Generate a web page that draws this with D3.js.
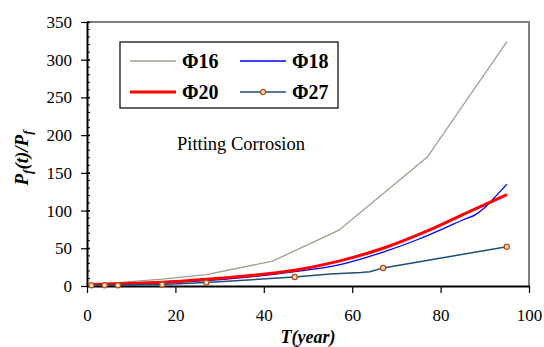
<!DOCTYPE html>
<html>
<head>
<meta charset="utf-8">
<script src="https://cdn.jsdelivr.net/npm/d3@7"></script>
<style>
  body { margin: 0; background: #fff; }
</style>
</head>
<body>
<div id="chart"></div>
<script>
// values
var xTicks = [0, 20, 40, 60, 80, 100];
var yTicks = [0, 50, 100, 150, 200, 250, 300, 350];

var phi16 = [[1, 2], [4, 3], [7, 4.5], [17, 9], [27, 15], [42, 33], [57, 74], [77, 171], [95, 324]];
var phi18 = [[1, 1], [4, 1.5], [7, 2], [17, 4], [27, 7], [37, 12], [47, 19], [57, 28], [67, 45], [75, 62], [81, 77], [85, 87.5], [88, 95], [90, 104], [92, 116], [95, 135]];
var phi20 = [[1, 2], [4, 2.5], [7, 3], [17, 5], [27, 9], [37, 14], [47, 21], [57, 33], [67, 50], [77, 73], [87, 100], [95, 121]];
var phi27 = [[1, 1], [4, 1], [7, 1], [17, 2], [27, 4.5], [47, 12], [55, 16], [62, 18], [64, 19], [67, 24], [95, 52]];
var phi27Marks = [[1, 1], [4, 1], [7, 1], [17, 2], [27, 4.5], [47, 12], [67, 24], [95, 52]];

var series = [
  { name: "Φ16", data: phi16, color: "#a09f8c", width: 1.3, curve: d3.curveLinear },
  { name: "Φ18", data: phi18, color: "#0000ff", width: 1.3, curve: d3.curveMonotoneX },
  { name: "Φ20", data: phi20, color: "#ff0000", width: 3, curve: d3.curveMonotoneX },
  { name: "Φ27", data: phi27, color: "#1f4e79", width: 1.5, curve: d3.curveLinear }
];

var FONT = "Liberation Serif";

var margin = { top: 22, right: 15, bottom: 61, left: 87 },
    width = 544 - margin.left - margin.right,
    height = 347 - margin.top - margin.bottom;

var svg = d3.select("#chart").append("svg")
    .attr("width", 544)
    .attr("height", 347)
    .attr("font-family", FONT);

var g = svg.append("g")
    .attr("transform", "translate(" + margin.left + "," + margin.top + ")");

var x = d3.scaleLinear().domain([0, 100]).range([0, width]);
var y = d3.scaleLinear().domain([0, 350]).range([height, 0]);

// gray frame on top and right
g.append("path")
    .attr("d", "M0,0H" + width + "V" + height)
    .attr("fill", "none")
    .attr("stroke", "#808080")
    .attr("stroke-width", 2);

// minor ticks on y, inside
g.selectAll("line.minor")
  .data(d3.range(0, 351, 10))
  .enter().append("line")
    .attr("class", "minor")
    .attr("x1", 0).attr("x2", 3)
    .attr("y1", function (d) { return y(d); })
    .attr("y2", function (d) { return y(d); })
    .attr("stroke", "#000");

var yAxis = g.append("g")
    .call(d3.axisLeft(y).tickValues(yTicks).tickSize(6).tickSizeOuter(0).tickPadding(9));
var xAxis = g.append("g")
    .attr("transform", "translate(0," + height + ")")
    .call(d3.axisBottom(x).tickValues(xTicks).tickSize(7).tickSizeOuter(0).tickPadding(16));

[yAxis, xAxis].forEach(function (a) {
  a.attr("font-family", FONT).attr("font-size", 17);
  a.select(".domain").attr("stroke", "#000").attr("stroke-width", 2);
  a.selectAll(".tick line").attr("stroke", "#000").attr("stroke-width", 1.2);
  a.selectAll(".tick text").attr("fill", "#000");
});
yAxis.selectAll(".tick line").attr("x2", -6).attr("x1", 3);

var line = d3.line()
    .x(function (d) { return x(d[0]); })
    .y(function (d) { return y(d[1]); });

g.selectAll("path.series")
  .data(series)
  .enter().append("path")
    .attr("class", "series")
    .attr("fill", "none")
    .attr("stroke", function (d) { return d.color; })
    .attr("stroke-width", function (d) { return d.width; })
    .attr("d", function (d) { return line.curve(d.curve)(d.data); });

g.selectAll("circle.mk")
  .data(phi27Marks)
  .enter().append("circle")
    .attr("class", "mk")
    .attr("cx", function (d) { return x(d[0]); })
    .attr("cy", function (d) { return y(d[1]); })
    .attr("r", 2.6)
    .attr("fill", "#f4d9c6")
    .attr("stroke", "#b4500f")
    .attr("stroke-width", 1.3);

// legend
var leg = svg.append("g").attr("transform", "translate(120,42)");
leg.append("rect")
    .attr("width", 218).attr("height", 66)
    .attr("fill", "#fff").attr("stroke", "#000").attr("stroke-width", 1.2);

var item = leg.selectAll("g.item")
  .data(series)
  .enter().append("g")
    .attr("class", "item")
    .attr("transform", function (d, i) {
      return "translate(" + (i % 2 ? 120 : 10) + "," + (i < 2 ? 19 : 50) + ")";
    });
item.append("line")
    .attr("x1", 0).attr("x2", 46)
    .attr("stroke", function (d) { return d.color; })
    .attr("stroke-width", function (d) { return d.width; });
item.filter(function (d) { return d.name === "Φ27"; })
  .append("circle")
    .attr("cx", 23).attr("r", 2.6)
    .attr("fill", "#f4d9c6").attr("stroke", "#b4500f").attr("stroke-width", 1.3);
item.append("text")
    .attr("x", 52).attr("dy", "0.35em")
    .attr("font-size", 20).attr("font-weight", "bold")
    .text(function (d) { return d.name; });

svg.append("text")
    .attr("x", 177).attr("y", 150)
    .attr("font-size", 18.5)
    .text("Pitting Corrosion");

// axis titles
svg.append("text")
    .attr("x", margin.left + width / 2).attr("y", 343)
    .attr("text-anchor", "middle")
    .attr("font-size", 18).attr("font-weight", "bold").attr("font-style", "italic")
    .text("T(year)");

var yt = svg.append("text")
    .attr("transform", "translate(28,158) rotate(-90)")
    .attr("text-anchor", "middle")
    .attr("font-size", 19).attr("font-weight", "bold").attr("font-style", "italic");
yt.append("tspan").text("P");
yt.append("tspan").attr("font-size", 13).attr("dy", 4).text("f");
yt.append("tspan").attr("dy", -4).text("(t)/P");
yt.append("tspan").attr("font-size", 13).attr("dy", 4).text("f");
</script>
</body>
</html>
